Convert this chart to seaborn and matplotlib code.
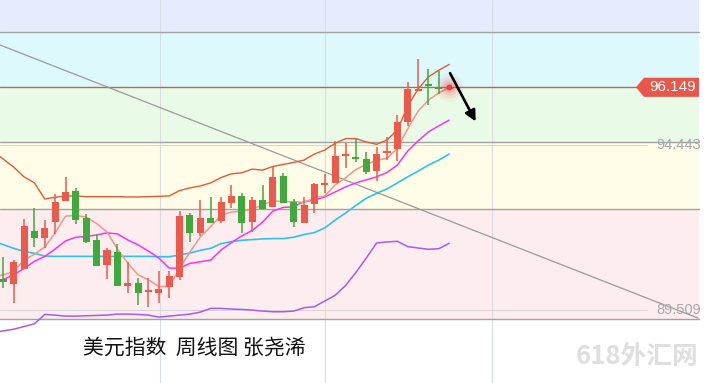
import numpy as np
import matplotlib
matplotlib.use("Agg")
import matplotlib.pyplot as plt
from matplotlib.patches import Polygon
import matplotlib.transforms as mtransforms
import seaborn as sns

# weekly candles (DXY)
opens = [90.43, 90.29, 90.73, 91.87, 91.67, 92.14, 92.77, 93.06, 92.25, 91.60,
         90.86, 91.23, 90.24, 90.32, 90.05, 90.03, 90.19, 90.50, 92.34, 91.82,
         92.25, 92.17, 92.71, 92.91, 92.14, 92.79, 92.59, 93.51, 92.74, 92.11,
         92.66, 93.23, 93.29, 94.11, 94.08, 94.00, 93.66, 94.20, 94.30, 95.12,
         96.05, 96.24, 96.17, 96.10]
highs = [91.10, 91.00, 92.22, 92.54, 92.19, 92.97, 93.48, 93.14, 92.37, 91.77,
         91.35, 91.48, 90.94, 90.47, 90.47, 90.67, 90.66, 92.47, 92.41, 92.79,
         92.87, 92.87, 93.24, 93.01, 92.89, 93.24, 93.76, 93.58, 92.81, 92.89,
         93.29, 93.57, 94.56, 94.50, 94.62, 94.21, 94.36, 94.66, 95.32, 96.30,
         96.99, 96.69, 96.62, 96.20]
lows = [90.16, 89.73, 90.73, 91.40, 91.35, 91.77, 92.77, 92.07, 91.52, 90.82,
        90.45, 90.24, 90.03, 89.67, 89.59, 89.71, 89.88, 90.41, 91.55, 91.73,
        92.11, 92.10, 92.55, 91.82, 91.85, 92.52, 92.59, 92.69, 91.99, 92.11,
        92.39, 93.01, 93.29, 93.74, 93.91, 93.56, 93.35, 93.98, 93.94, 95.00,
        96.05, 95.62, 95.94, 96.08]
closes = [90.36, 90.94, 92.02, 91.67, 91.95, 92.73, 93.03, 92.20, 91.55, 90.82,
          91.30, 90.24, 90.32, 90.03, 90.07, 90.14, 90.53, 92.31, 91.82, 92.25,
          92.11, 92.73, 92.91, 92.11, 92.79, 92.52, 93.48, 92.71, 92.14, 92.64,
          93.27, 93.30, 94.10, 94.13, 94.00, 93.63, 94.16, 94.22, 95.12, 96.10,
          96.09, 96.20, 96.09, 96.149]

# indicator lines, one value per candle starting one week before the first candle
ma_upper = [94.24, 94.01, 93.77, 93.48, 93.30, 92.82, 92.87, 92.91, 92.91, 92.89,
            92.89, 92.89, 92.89, 92.88, 92.88, 92.89, 92.90, 92.91, 93.07, 93.15,
            93.21, 93.30, 93.46, 93.57, 93.60, 93.71, 93.68, 93.79, 93.85, 93.91,
            93.98, 94.16, 94.28, 94.48, 94.62, 94.62, 94.52, 94.45, 94.58, 94.88,
            95.59, 96.10, 96.46, 96.66, 96.83]
ma_fast = [90.50, 90.56, 90.66, 91.00, 91.17, 91.39, 91.81, 92.31, 92.33, 92.28,
           92.09, 91.84, 91.33, 90.91, 90.56, 90.41, 90.21, 90.21, 90.75, 91.24,
           91.69, 92.00, 92.33, 92.43, 92.46, 92.52, 92.64, 92.77, 92.74, 92.74,
           92.72, 92.85, 92.91, 93.24, 93.45, 93.70, 93.85, 93.98, 94.03, 94.34,
           94.91, 95.44, 95.77, 95.98, 96.149]
ma_mid = [90.35, 90.42, 90.56, 90.75, 90.96, 91.11, 91.33, 91.57, 91.68, 91.70,
          91.75, 91.81, 91.78, 91.60, 91.45, 91.27, 91.06, 90.76, 90.76, 90.90,
          90.95, 91.00, 91.30, 91.52, 91.72, 91.88, 92.13, 92.46, 92.57, 92.59,
          92.74, 92.79, 92.88, 93.03, 93.18, 93.30, 93.39, 93.48, 93.61, 93.83,
          94.25, 94.55, 94.82, 95.00, 95.17]
ma_slow = [91.57, 91.46, 91.35, 91.26, 91.20, 91.12, 91.11, 91.11, 91.11, 91.11,
           91.11, 91.11, 91.11, 91.11, 91.11, 91.11, 91.10, 91.10, 91.15, 91.21,
           91.29, 91.35, 91.49, 91.55, 91.59, 91.61, 91.63, 91.64, 91.64, 91.68,
           91.76, 91.82, 91.96, 92.19, 92.40, 92.63, 92.84, 92.99, 93.12, 93.30,
           93.48, 93.65, 93.83, 93.98, 94.16]
ma_lower = [88.83, 88.89, 88.94, 89.02, 89.10, 89.38, 89.36, 89.33, 89.33, 89.34,
            89.35, 89.36, 89.39, 89.39, 89.38, 89.36, 89.30, 89.33, 89.36, 89.39,
            89.45, 89.56, 89.56, 89.54, 89.53, 89.51, 89.48, 89.46, 89.46, 89.48,
            89.58, 89.61, 89.78, 89.95, 90.24, 90.63, 91.06, 91.51, 91.54, 91.56,
            91.40, 91.36, 91.32, 91.34, 91.50]

# zones and levels
band_edges = [98.75, 97.80, 96.149, 94.52, 92.52, 89.23]
band_colors = ["#E6ECFC", "#DEF9FC", "#E9FBE7", "#FFFDE8", "#FDEDEE"]
last_price = 96.149
level_labels = [94.443, 89.509]
trend_x = [-0.32, 67.0]
trend_y = [97.41, 89.27]
arrow_x = [43.08, 45.55]
arrow_y = [96.57, 95.13]
grid_x = [15.1, 31.0, 47.1]

sns.set_style("white")
plt.rcParams["font.family"] = ["Noto Sans CJK SC", "DejaVu Sans"]

fig = plt.figure(figsize=(7.09, 3.83), dpi=100)
ax = fig.add_axes([0, 0, 1, 1])
ax.set_xlim(-0.318, 68.05)
ax.set_ylim(87.337, 98.75)
ax.axis("off")

right = 699 / 709
for top, bot, col in zip(band_edges[:-1], band_edges[1:], band_colors):
    ax.axhspan(bot, top, xmin=0, xmax=right, color=col, lw=0, zorder=0)
for lv in [band_edges[1], band_edges[3], band_edges[4], band_edges[5]]:
    ax.axhline(lv, xmin=0, xmax=right, color="#A2A2A2", lw=1.0, zorder=1.5)
for lv in level_labels:
    ax.axhline(lv, xmin=0, xmax=647 / 709, color="#D6D2D6", lw=0.7, zorder=1.4)
for gx in grid_x:
    ax.axvline(gx, color="#D8DCE4", lw=0.8, zorder=1)
ax.axhline(last_price, xmin=0, xmax=637 / 709, color="#B9675B", lw=1.0, zorder=1.6)

ax.plot(trend_x, trend_y, color="#9A9A9A", lw=0.9, zorder=2)

ma_x = np.arange(-1, len(opens))
for vals, col, lw in [(ma_lower, "#A45AF6", 1.1), (ma_slow, "#2EC2EE", 1.2),
                      (ma_mid, "#F435F4", 1.1), (ma_upper, "#E05A38", 1.0),
                      (ma_fast, "#F4968C", 1.1)]:
    sns.lineplot(x=ma_x, y=vals, color=col, lw=lw, ax=ax, legend=False,
                 estimator=None, sort=False, zorder=3)

# candles
o = np.array(opens); c = np.array(closes)
h = np.array(highs); l = np.array(lows)
idx = np.arange(len(o))
cols = np.where(c >= o, "#EB5A4C", "#3FA93C")
ax.vlines(idx, l, h, colors=cols, lw=1.1, zorder=4)
body_lo = np.minimum(o, c)
body_h = np.maximum(np.abs(c - o), 0.045)
ax.bar(idx, body_h, bottom=body_lo, width=0.68, color=cols, lw=0, zorder=4.5)

# current price marker with glow
for s, a in [(420, 0.05), (260, 0.08), (140, 0.12), (60, 0.2)]:
    ax.scatter([idx[-1]], [last_price], s=s, color="#F04040", alpha=a, lw=0, zorder=5)
ax.scatter([idx[-1]], [last_price], s=18, color="#F03A3A", lw=0, zorder=5.5)

ax.annotate("", xy=(arrow_x[1], arrow_y[1]), xytext=(arrow_x[0], arrow_y[0]),
            arrowprops=dict(arrowstyle="-|>", color="black", lw=1.9,
                            mutation_scale=16, shrinkA=0, shrinkB=0), zorder=6)

# price tag
blend = mtransforms.blended_transform_factory(ax.transAxes, ax.transData)
hh = 0.285
tag = Polygon([(636 / 709, last_price), (644 / 709, last_price + hh), (right, last_price + hh),
               (right, last_price - hh), (644 / 709, last_price - hh)],
              closed=True, transform=blend, fc="#E8574A", ec="none", zorder=7)
ax.add_patch(tag)
ax.text(673 / 709, last_price, f"{last_price:.3f}", transform=blend, ha="center", va="center",
        color="white", fontsize=11, family="Liberation Sans", zorder=8)
for lv in level_labels:
    ax.text(701 / 709, lv, f"{lv:.3f}", transform=blend, ha="right", va="center",
            color="#A8A8B0", fontsize=10.5, family="Liberation Sans", zorder=8)

fig.text(83 / 709, 1 - 348 / 383, "美元指数  周线图 张尧浠", ha="left", va="center",
         fontsize=15, color="#111111")
fig.text(576 / 709, 1 - 356 / 383, "618外汇网", ha="left", va="center",
         fontsize=18.5, fontweight="bold", color="#DFDFDF")

fig.savefig("out.png", dpi=100)
